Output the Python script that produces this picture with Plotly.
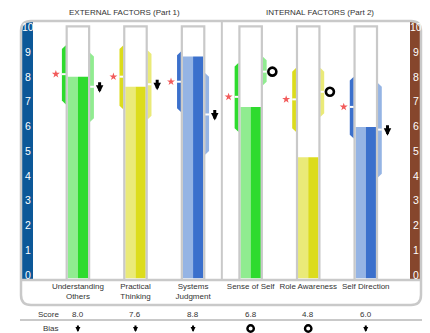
import plotly.graph_objects as go

CATEGORIES = ["Understanding<br>Others", "Practical<br>Thinking", "Systems<br>Judgment",
              "Sense of Self", "Role Awareness", "Self Direction"]
SCORES = [8.0, 7.6, 8.8, 6.8, 4.8, 6.0]
LEFT_LOW = [6.9, 6.7, 6.6, 5.8, 5.8, 5.55]
LEFT_HIGH = [9.25, 9.25, 9.0, 8.55, 8.35, 8.0]
LEFT_MARK = [8.1, 8.0, 7.8, 7.2, 7.1, 6.8]
RIGHT_LOW = [6.2, 6.3, 4.9, 7.65, 6.4, 4.0]
RIGHT_HIGH = [8.95, 9.05, 8.15, 8.8, 8.35, 7.75]
RIGHT_MARK = [7.6, 7.7, 6.5, 8.2, 7.4, 5.9]
BIAS = ["down", "down", "down", "ring", "ring", "down"]
FAMILY = ["green", "yellow", "blue", "green", "yellow", "blue"]
Y_TICKS = list(range(11))
GROUP_TITLES = ["EXTERNAL FACTORS (Part 1)", "INTERNAL FACTORS (Part 2)"]

DARK = {"green": "#2EDB2E", "yellow": "#DCDC1C", "blue": "#3B70CC"}
LIGHT = {"green": "#90EC90", "yellow": "#EAEA78", "blue": "#95B4E4"}
GREY = "#C9C9C9"
INK = "#333333"
FONT = "Liberation Sans, Arial, sans-serif"

# plot area in pixels
L, T, W, H = 33, 21, 377, 259


def X(px):
    return (px - L) / W


def Y(py):
    return (T + H - py) / H


HALF_BAR = 0.177     # inner half width of a tube (x units)
TUBE = 0.195         # tube outline
BAND_IN, BAND_OUT = 0.209, 0.278
CHAMFER = 0.15
SIDE = 0.377         # marker offset to the right of the tube
STAR = 0.383
idx = list(range(len(CATEGORIES)))

fig = go.Figure()

# range bands
for i in idx:
    lo, hi = LEFT_LOW[i], LEFT_HIGH[i]
    fig.add_trace(go.Scatter(
        x=[i - BAND_IN, i - BAND_OUT, i - BAND_OUT, i - BAND_IN, i - BAND_IN],
        y=[hi, hi - CHAMFER, lo + CHAMFER, lo, hi],
        fill="toself", fillcolor=DARK[FAMILY[i]], mode="none", hoverinfo="skip",
    ))
    lo, hi = RIGHT_LOW[i], RIGHT_HIGH[i]
    fig.add_trace(go.Scatter(
        x=[i + BAND_IN, i + BAND_OUT, i + BAND_OUT, i + BAND_IN, i + BAND_IN],
        y=[hi, hi - CHAMFER, lo + CHAMFER, lo, hi],
        fill="toself", fillcolor=LIGHT[FAMILY[i]], mode="none", hoverinfo="skip",
    ))

# white ticks on the bands
tx, ty = [], []
for i in idx:
    tx += [i - BAND_OUT, i - BAND_IN, None, i + BAND_IN, i + BAND_OUT, None]
    ty += [LEFT_MARK[i], LEFT_MARK[i], None, RIGHT_MARK[i], RIGHT_MARK[i], None]
fig.add_trace(go.Scatter(x=tx, y=ty, mode="lines", line=dict(color="white", width=2),
                         hoverinfo="skip"))

# split bars
fig.add_trace(go.Bar(x=idx, y=SCORES, width=HALF_BAR, offset=-HALF_BAR,
                     marker=dict(color=[LIGHT[f] for f in FAMILY], line_width=0)))
fig.add_trace(go.Bar(x=idx, y=SCORES, width=HALF_BAR, offset=0,
                     marker=dict(color=[DARK[f] for f in FAMILY], line_width=0)))

# stars
fig.add_trace(go.Scatter(x=[i - STAR for i in idx], y=LEFT_MARK, mode="markers",
                         marker=dict(symbol="star", size=6, color="#F25A5A"),
                         hoverinfo="skip"))

# rings beside the tubes
rings = [i for i in idx if BIAS[i] == "ring"]
fig.add_trace(go.Scatter(x=[i + SIDE for i in rings], y=[RIGHT_MARK[i] for i in rings],
                         mode="markers", hoverinfo="skip",
                         marker=dict(symbol="circle-open", size=8, color="black",
                                     line=dict(width=2.6, color="black"))))

# dummy trace for the label axis
fig.add_trace(go.Scatter(x=[0], y=[0], yaxis="y2", mode="markers",
                         marker=dict(opacity=0), hoverinfo="skip"))

annotations = []
shapes = []
for i in idx:
    if BIAS[i] == "down":
        annotations.append(dict(x=i + SIDE, y=RIGHT_MARK[i] - 0.24, xref="x", yref="y",
                                text="", showarrow=True, ax=0, ay=-12, arrowhead=2,
                                arrowwidth=3, arrowsize=0.5, arrowcolor="black"))
        annotations.append(dict(x=i, y=Y(332), xref="x", yref="paper",
                                text="", showarrow=True, ax=0, ay=-8, arrowhead=2,
                                arrowwidth=2, arrowsize=0.5, arrowcolor="black"))
    else:
        shapes.append(dict(type="circle", xref="x", yref="paper", xsizemode="pixel",
                           ysizemode="pixel", xanchor=i, yanchor=Y(328.5),
                           x0=-3.2, x1=3.2, y0=-3.2, y1=3.2,
                           line=dict(color="black", width=2.4)))
    annotations.append(dict(x=i, y=Y(314), xref="x", yref="paper", text=f"{SCORES[i]:.1f}",
                            xanchor="center", yanchor="middle",
                            showarrow=False, font=dict(size=8, color=INK)))

annotations += [
    dict(x=X(61), y=Y(314), xref="paper", yref="paper", text="Score", xanchor="right",
         yanchor="middle", showarrow=False, font=dict(size=8, color=INK)),
    dict(x=X(61), y=Y(328.5), xref="paper", yref="paper", text="Bias", xanchor="right",
         yanchor="middle", showarrow=False, font=dict(size=8, color=INK)),
    dict(x=X(124), y=Y(12), xref="paper", yref="paper", text=GROUP_TITLES[0],
         xanchor="center", yanchor="middle", showarrow=False, font=dict(size=8, color=INK)),
    dict(x=X(319.5), y=Y(12), xref="paper", yref="paper", text=GROUP_TITLES[1],
         xanchor="center", yanchor="middle", showarrow=False, font=dict(size=8, color=INK)),
]
for v in Y_TICKS:
    for xc in (27.5, 416.5):
        annotations.append(dict(x=X(xc), y=v, xref="paper", yref="y2", text=str(v),
                                xanchor="center", yanchor="middle", showarrow=False,
                                font=dict(size=10.5, color="white")))

# colored side strips
shapes.append(dict(type="path", xref="paper", yref="paper", layer="below",
                   fillcolor="#0C5898", line_width=0,
                   path=f"M{X(22)},{Y(280)} L{X(22)},{Y(31)} Q{X(22)},{Y(22)} {X(31)},{Y(22)} "
                        f"L{X(33)},{Y(22)} L{X(33)},{Y(280)} Z"))
shapes.append(dict(type="path", xref="paper", yref="paper", layer="below",
                   fillcolor="#86462C", line_width=0,
                   path=f"M{X(410)},{Y(280)} L{X(410)},{Y(22)} L{X(411)},{Y(22)} "
                        f"Q{X(420)},{Y(22)} {X(420)},{Y(31)} L{X(420)},{Y(280)} Z"))
# rounded frame
x0, y0, x1, y1, r = 21, 21, 421, 305, 10
shapes.append(dict(
    type="path", xref="paper", yref="paper", layer="above", line=dict(color=GREY, width=2.5),
    path=(f"M{X(x0)},{Y(y0 + r)} Q{X(x0)},{Y(y0)} {X(x0 + r)},{Y(y0)} L{X(x1 - r)},{Y(y0)} "
          f"Q{X(x1)},{Y(y0)} {X(x1)},{Y(y0 + r)} L{X(x1)},{Y(y1 - r)} "
          f"Q{X(x1)},{Y(y1)} {X(x1 - r)},{Y(y1)} L{X(x0 + r)},{Y(y1)} "
          f"Q{X(x0)},{Y(y1)} {X(x0)},{Y(y1 - r)} Z")))
shapes.append(dict(type="line", xref="paper", yref="paper", x0=X(21), x1=X(421), y0=0, y1=0,
                   line=dict(color=GREY, width=2.5), layer="above"))
shapes.append(dict(type="line", xref="paper", yref="paper", x0=X(20), x1=X(422),
                   y0=Y(320), y1=Y(320), line=dict(color=GREY, width=2)))
shapes.append(dict(type="line", xref="x", yref="paper", x0=2.5, x1=2.5, y0=0, y1=1,
                   line=dict(color=GREY, width=2), layer="above"))
# tubes
for i in idx:
    shapes.append(dict(type="rect", xref="x", yref="y", x0=i - TUBE, x1=i + TUBE,
                       y0=-0.07, y1=10, line=dict(color=GREY, width=2.2), layer="above"))

fig.update_layout(
    width=430, height=333,
    margin=dict(l=L, r=430 - L - W, t=T, b=333 - T - H),
    paper_bgcolor="white", plot_bgcolor="rgba(0,0,0,0)",
    barmode="overlay", showlegend=False,
    font=dict(family=FONT, color=INK),
    xaxis=dict(range=[-0.78, 5.768], tickvals=idx, ticktext=CATEGORIES,
               tickfont=dict(size=8, color=INK), showgrid=False, zeroline=False,
               showline=False, ticks=""),
    yaxis=dict(range=[-0.07, 10.21], visible=False, showgrid=False, zeroline=False),
    yaxis2=dict(range=[-0.214, 10.242], overlaying="y", visible=False),
    annotations=annotations,
    shapes=shapes,
)

fig.write_html("out.html", config={"displayModeBar": False},
               post_script="document.body.style.margin = '0px';")
